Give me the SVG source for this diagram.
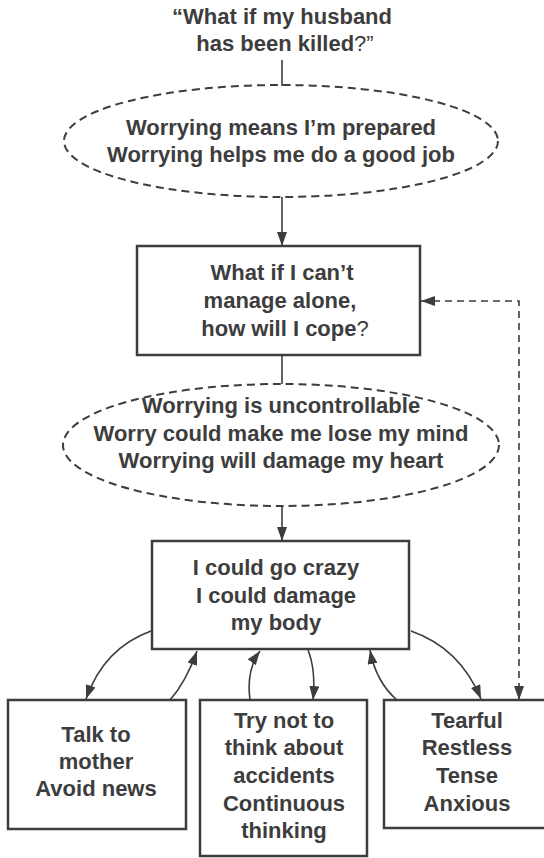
<svg xmlns="http://www.w3.org/2000/svg" width="544" height="858" viewBox="0 0 544 858">
<style>
text{font-family:"Liberation Sans",Arial,Helvetica,sans-serif;font-weight:bold;font-size:22px;fill:#3d3d3d;text-anchor:middle}
.n{font-weight:normal}
.box{fill:#fff;stroke:#3d3d3d;stroke-width:2.5}
.oval{fill:none;stroke:#3d3d3d;stroke-width:2;stroke-dasharray:8 5}
.c{fill:none;stroke:#3d3d3d;stroke-width:1.6}
.d{fill:none;stroke:#3d3d3d;stroke-width:1.6;stroke-dasharray:7 5}
</style>
<defs>
<marker id="a" viewBox="0 0 14 10" refX="14" refY="5" markerWidth="14" markerHeight="10" markerUnits="userSpaceOnUse" orient="auto-start-reverse">
<path d="M0,0 L14,5 L0,10 z" fill="#3d3d3d"/>
</marker>
</defs>
<rect width="544" height="858" fill="#fff"/>
<g id="connectors">
<path class="c" d="M282,60 L282,86"/>
<path class="c" d="M282,197 L282,246" marker-end="url(#a)"/>
<path class="c" d="M282,355 L282,384"/>
<path class="c" d="M282,507 L282,541" marker-end="url(#a)"/>
<path class="d" d="M421,301 L519,301 L519,700" marker-start="url(#a)" marker-end="url(#a)"/>
<path class="c" d="M151,631 Q104,648 86,699" marker-end="url(#a)"/>
<path class="c" d="M170,700 Q186,682 197,651" marker-end="url(#a)"/>
<path class="c" d="M250,700 Q246,670 260,651" marker-end="url(#a)"/>
<path class="c" d="M308,650 Q316,670 313,700" marker-end="url(#a)"/>
<path class="c" d="M397,700 Q376,682 370,650" marker-end="url(#a)"/>
<path class="c" d="M411,631 Q460,648 481,699" marker-end="url(#a)"/>
</g>
<g id="trigger">
<text x="282" y="24">“What if my husband</text>
<text x="285" y="51">has been killed<tspan class="n">?”</tspan></text>
</g>
<g id="belief1">
<ellipse class="oval" cx="281" cy="141" rx="217" ry="56"/>
<text x="281" y="135">Worrying means I’m prepared</text>
<text x="281" y="162">Worrying helps me do a good job</text>
</g>
<g id="worry1">
<rect class="box" x="137" y="246" width="283" height="109"/>
<text x="282" y="280">What if I can’t</text>
<text x="280" y="308">manage alone,</text>
<text x="285" y="336">how will I cope<tspan class="n">?</tspan></text>
</g>
<g id="belief2">
<ellipse class="oval" cx="281" cy="445" rx="218" ry="61"/>
<text x="281" y="413">Worrying is uncontrollable</text>
<text x="281" y="441">Worry could make me lose my mind</text>
<text x="281" y="468">Worrying will damage my heart</text>
</g>
<g id="worry2">
<rect class="box" x="152" y="541" width="257" height="108"/>
<text x="276" y="575">I could go crazy</text>
<text x="276" y="603">I could damage</text>
<text x="276" y="630">my body</text>
</g>
<g id="behaviour">
<rect class="box" x="8" y="700" width="178" height="129"/>
<text x="96" y="742">Talk to</text>
<text x="96" y="769">mother</text>
<text x="96" y="796">Avoid news</text>
</g>
<g id="thinking">
<rect class="box" x="200" y="700" width="167" height="156"/>
<text x="284" y="728">Try not to</text>
<text x="284" y="755">think about</text>
<text x="284" y="783">accidents</text>
<text x="284" y="811">Continuous</text>
<text x="284" y="838">thinking</text>
</g>
<g id="symptoms">
<rect class="box" x="384" y="700" width="162" height="128"/>
<text x="467" y="728">Tearful</text>
<text x="467" y="755">Restless</text>
<text x="467" y="783">Tense</text>
<text x="467" y="811">Anxious</text>
</g>
</svg>
